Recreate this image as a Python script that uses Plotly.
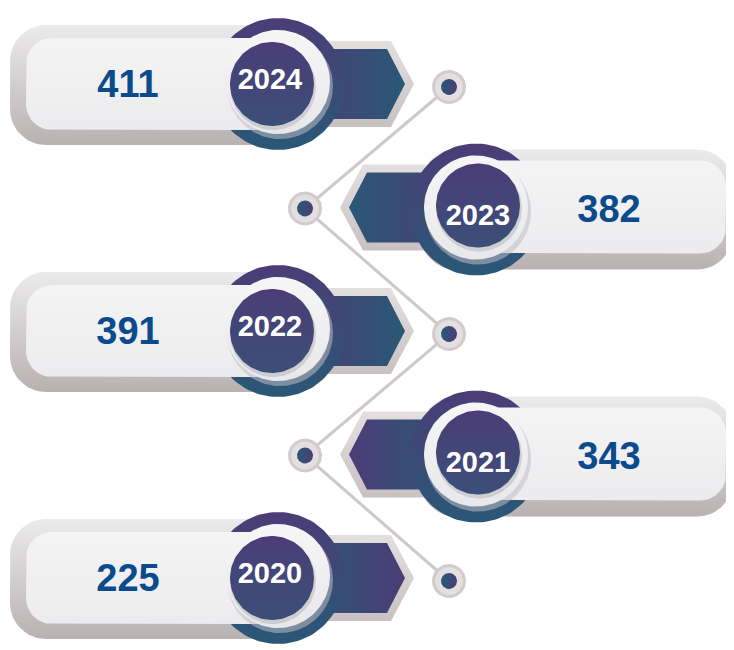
import numpy as np
import plotly.graph_objects as go

# ---- data ----
years = ["2024", "2023", "2022", "2021", "2020"]
values = [411, 382, 391, 343, 225]

W, H = 734, 650
OFF = 8  # default page body margin
PURPLE = "#4b3d77"
TEAL = "#2a5876"
VAL_COLOR = "#0b4a8c"
FONT = "Liberation Sans Narrow, Arial Narrow, Liberation Sans, Arial, sans-serif"

fig = go.Figure()


def circle(cx, cy, r, n=120):
    t = np.linspace(0, 2 * np.pi, n)
    return list(cx + r * np.cos(t)), list(cy + r * np.sin(t))


def rrect(x0, y0, x1, y1, r, n=16):
    xs, ys = [], []
    corners = [(x1 - r, y0 + r, -np.pi / 2, 0), (x1 - r, y1 - r, 0, np.pi / 2),
               (x0 + r, y1 - r, np.pi / 2, np.pi), (x0 + r, y0 + r, np.pi, 1.5 * np.pi)]
    for cx, cy, a0, a1 in corners:
        t = np.linspace(a0, a1, n)
        xs += list(cx + r * np.cos(t))
        ys += list(cy + r * np.sin(t))
    xs.append(xs[0]); ys.append(ys[0])
    return xs, ys


def poly(xs, ys, color=None, grad=None):
    """grad = (type, first_color, second_color); vertical: first = top, horizontal: first = left"""
    kw = dict(x=xs, y=ys, fill="toself", mode="lines", line=dict(width=0),
              hoverinfo="skip", showlegend=False)
    if grad is not None:
        gtype, c0, c1 = grad
        if gtype == "vertical":
            c0, c1 = c1, c0
        kw["fillgradient"] = dict(type=gtype, colorscale=[[0, c0], [1, c1]])
        kw["fillcolor"] = c0
    else:
        kw["fillcolor"] = color
    fig.add_trace(go.Scatter(**kw))


n = len(years)
row_y = [84 + i * 123.5 for i in range(n)]
MIRROR = 754


def mx(x, right):
    if isinstance(x, list):
        return [MIRROR - v for v in x] if right else x
    return MIRROR - x if right else x


# ---- connecting zigzag line ----
node_x = [mx(449, i % 2 == 1) for i in range(n)]
node_y = [row_y[i] + (3 if i % 2 == 0 else 1) for i in range(n)]
fig.add_trace(go.Scatter(x=node_x, y=node_y, mode="lines",
                         line=dict(color="#cfc8c8", width=3),
                         hoverinfo="skip", showlegend=False))

for i in range(n):
    right = i % 2 == 1
    yc = row_y[i]

    # outer shadow pill
    if right:
        xs, ys = rrect(420, yc - 58, 733, yc + 62, 36)
    else:
        xs, ys = rrect(10, yc - 59, 320, yc + 61, 36)
    poly(xs, ys, grad=("vertical", "#ecebeb", "#b9b1b1"))

    # tab gray border
    tx = [300, 391, 414, 391, 300, 300]
    ty = [yc - 43, yc - 43, yc, yc + 43, yc + 43, yc - 43]
    poly(mx(tx, right), ty, grad=("vertical", "#e4dfdf", "#c9c1c1"))
    # tab dark fill
    tx = [300, 387, 405, 387, 300, 300]
    ty = [yc - 35, yc - 35, yc, yc + 35, yc + 35, yc - 35]
    c0, c1 = (PURPLE, TEAL)
    if i == 1 or i == 4:
        c0, c1 = (TEAL, PURPLE)
    poly(mx(tx, right), ty, grad=("horizontal", c0, c1))

    # dark ring
    rcx = mx(278, right)
    rcy = yc + (2 if right else 0)
    xs, ys = circle(rcx, rcy, 66)
    poly(xs, ys, grad=("vertical", PURPLE, TEAL))

    # inner white pill
    if right:
        xs, ys = rrect(450, yc - 47, 726, yc + 46, 26)
    else:
        xs, ys = rrect(26, yc - 46, 290, yc + 46, 26)
    poly(xs, ys, grad=("vertical", "#f4f4f5", "#ececee"))

    # white ring with soft shadow
    wcx = mx(278, right)
    wcy = yc + (0 if right else -2)
    xs, ys = circle(wcx + 2, wcy + 4, 53)
    poly(xs, ys, color="rgba(190,190,198,0.55)")
    xs, ys = circle(wcx, wcy, 52)
    poly(xs, ys, grad=("vertical", "#f6f6f7", "#e8e8ea"))

    # inner disc
    dcx = 478 if right else 272
    dcy = yc - 2 if right else yc
    xs, ys = circle(dcx + 1, dcy + 3, 43)
    poly(xs, ys, color="rgba(170,170,180,0.45)")
    xs, ys = circle(dcx, dcy, 42)
    poly(xs, ys, grad=("vertical", PURPLE, "#3b4f78"))

    # node
    nx_, ny_ = node_x[i], node_y[i]
    xs, ys = circle(nx_, ny_, 17)
    poly(xs, ys, color="#d2cbcb")
    xs, ys = circle(nx_, ny_, 14)
    poly(xs, ys, color="#e4e0e0")
    xs, ys = circle(nx_, ny_, 8)
    poly(xs, ys, grad=("horizontal", TEAL, PURPLE))

# ---- texts ----
val_x = [609 if i % 2 == 1 else 128 for i in range(n)]
val_y = [row_y[i] + (5 if i % 2 == 1 else 3) for i in range(n)]
fig.add_trace(go.Scatter(x=val_x, y=val_y, mode="text",
                         text=[str(v) for v in values],
                         textfont=dict(family=FONT, size=38, color=VAL_COLOR, weight=700),
                         hoverinfo="skip", showlegend=False))
yr_x = [478 if i % 2 == 1 else 270 for i in range(n)]
yr_y = [row_y[i] + (10 if i % 2 == 1 else -2) for i in range(n)]
fig.add_trace(go.Scatter(x=yr_x, y=yr_y, mode="text", text=years,
                         textfont=dict(family=FONT, size=29, color="white", weight=700),
                         hoverinfo="skip", showlegend=False))

fig.update_layout(
    width=W - OFF, height=H - OFF, margin=dict(l=0, r=0, t=0, b=0),
    paper_bgcolor="white", plot_bgcolor="white",
    xaxis=dict(range=[OFF, W], visible=False, fixedrange=True),
    yaxis=dict(range=[H, OFF], visible=False, fixedrange=True),
)
fig.write_html("out.html")
